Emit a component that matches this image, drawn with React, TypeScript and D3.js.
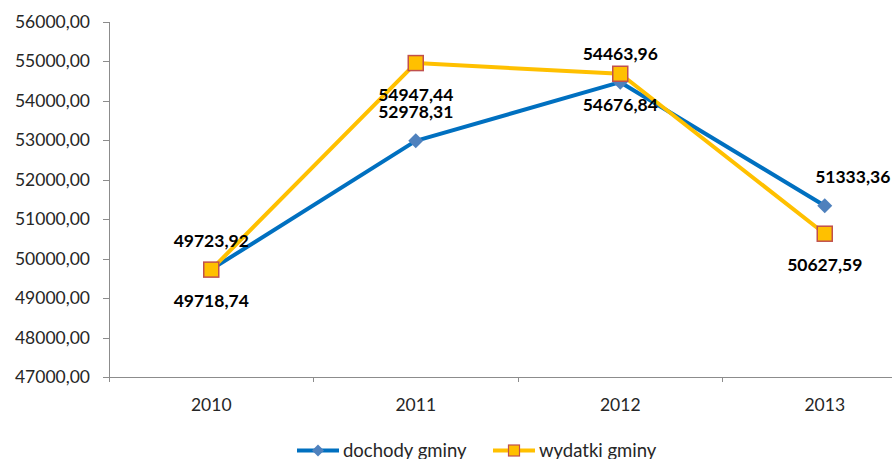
import React, { useEffect, useRef } from "react";
import * as d3 from "d3";

const years = ["2010", "2011", "2012", "2013"];
const dochody = [49723.92, 52978.31, 54463.96, 51333.36];
const wydatki = [49718.74, 54947.44, 54676.84, 50627.59];
const yTicks = [47000, 48000, 49000, 50000, 51000, 52000, 53000, 54000, 55000, 56000];
const seriesNames = ["dochody gminy", "wydatki gminy"];

export default function App() {
  const ref = useRef<SVGSVGElement | null>(null);

  useEffect(() => {
    const width = 892;
    const height = 459;
    const margin = { top: 21.5, left: 109, bottom: 377, right: 927 };
    const font = "Lato, 'Open Sans', sans-serif";
    const axisColor = "#8c8c8c";

    const fmt = (v: number) => d3.format(".2f")(v).replace(".", ",");

    const svg = d3.select(ref.current);
    svg.selectAll("*").remove();
    svg.attr("width", width).attr("height", height);

    const x = d3.scaleBand().domain(years).range([margin.left, margin.right]);
    const y = d3.scaleLinear().domain([47000, 56000]).range([margin.bottom, margin.top]);
    const cx = (i: number) => (x(years[i]) as number) + x.bandwidth() / 2;

    // y axis
    const yAxis = d3.axisLeft(y).tickValues(yTicks).tickSize(6).tickPadding(13).tickFormat((d) => fmt(d as number));
    const gy = svg.append("g").attr("transform", `translate(${margin.left},0)`).call(yAxis);
    gy.selectAll("path,line").attr("stroke", axisColor).attr("shape-rendering", "crispEdges");
    gy.selectAll("text").attr("font-family", font).attr("font-size", 17.5).attr("fill", "#262626");

    // x axis
    const xAxis = d3.axisBottom(x).tickSize(0).tickPadding(22);
    const gx = svg.append("g").attr("transform", `translate(0,${margin.bottom})`).call(xAxis);
    gx.select("path").attr("stroke", axisColor).attr("shape-rendering", "crispEdges");
    gx.selectAll("text").attr("font-family", font).attr("font-size", 17.5).attr("fill", "#262626");
    gx.selectAll(".sep")
      .data(years.concat(["end"]))
      .enter()
      .append("line")
      .attr("x1", (d, i) => margin.left + i * x.bandwidth())
      .attr("x2", (d, i) => margin.left + i * x.bandwidth())
      .attr("y1", 0)
      .attr("y2", 5)
      .attr("stroke", axisColor)
      .attr("shape-rendering", "crispEdges");

    const line = d3.line<number>().x((d, i) => cx(i)).y((d) => y(d));

    const diamond = (s: number) => `M0,${-s}L${s},0L0,${s}L${-s},0Z`;

    // dochody gminy
    svg.append("path")
      .attr("d", line(dochody))
      .attr("fill", "none")
      .attr("stroke", "#0070C0")
      .attr("stroke-width", 4)
      .attr("stroke-linejoin", "round");
    svg.selectAll(".dmark")
      .data(dochody)
      .enter()
      .append("path")
      .attr("d", diamond(7.5))
      .attr("transform", (d, i) => `translate(${cx(i)},${y(d)})`)
      .attr("fill", "#4F81BD");

    // wydatki gminy
    svg.append("path")
      .attr("d", line(wydatki))
      .attr("fill", "none")
      .attr("stroke", "#FFC000")
      .attr("stroke-width", 4)
      .attr("stroke-linejoin", "round");
    svg.selectAll(".wmark")
      .data(wydatki)
      .enter()
      .append("rect")
      .attr("x", (d, i) => cx(i) - 7.5)
      .attr("y", (d) => y(d) - 7.5)
      .attr("width", 15)
      .attr("height", 15)
      .attr("fill", "#FFC000")
      .attr("stroke", "#C0504D")
      .attr("stroke-width", 1.5);

    // data labels: dochody above, wydatki below
    const labelShift = [0, 0, 0, 28];
    svg.selectAll(".dlab")
      .data(dochody)
      .enter()
      .append("text")
      .attr("x", (d, i) => cx(i) + labelShift[i])
      .attr("y", (d) => y(d) - 29 + 6.5)
      .attr("text-anchor", "middle")
      .attr("font-family", font)
      .attr("font-weight", "bold")
      .attr("font-size", 17.5)
      .attr("fill", "#000")
      .text((d) => fmt(d));
    svg.selectAll(".wlab")
      .data(wydatki)
      .enter()
      .append("text")
      .attr("x", (d, i) => cx(i))
      .attr("y", (d) => y(d) + 31 + 6.5)
      .attr("text-anchor", "middle")
      .attr("font-family", font)
      .attr("font-weight", "bold")
      .attr("font-size", 17.5)
      .attr("fill", "#000")
      .text((d) => fmt(d));

    // legend
    const legendY = 450.5;
    const lg1 = svg.append("g").attr("transform", `translate(297,${legendY})`);
    lg1.append("line").attr("x1", 0).attr("x2", 42).attr("y1", 0).attr("y2", 0).attr("stroke", "#0070C0").attr("stroke-width", 4);
    lg1.append("path").attr("d", diamond(6)).attr("transform", "translate(21,0)").attr("fill", "#4F81BD");
    lg1.append("text").attr("x", 46).attr("y", 6).attr("font-family", font).attr("font-size", 18.5).attr("fill", "#262626").text(seriesNames[0]);

    const lg2 = svg.append("g").attr("transform", `translate(493,${legendY})`);
    lg2.append("line").attr("x1", 0).attr("x2", 42).attr("y1", 0).attr("y2", 0).attr("stroke", "#FFC000").attr("stroke-width", 4);
    lg2.append("rect").attr("x", 15.5).attr("y", -5.5).attr("width", 11).attr("height", 11).attr("fill", "#FFC000").attr("stroke", "#C0504D").attr("stroke-width", 1.2);
    lg2.append("text").attr("x", 46).attr("y", 6).attr("font-family", font).attr("font-size", 18.5).attr("fill", "#262626").text(seriesNames[1]);
  }, []);

  return (
    <div style={{ position: "absolute", left: 0, top: 0, background: "#fff" }}>
      <svg ref={ref} style={{ display: "block" }}></svg>
    </div>
  );
}
